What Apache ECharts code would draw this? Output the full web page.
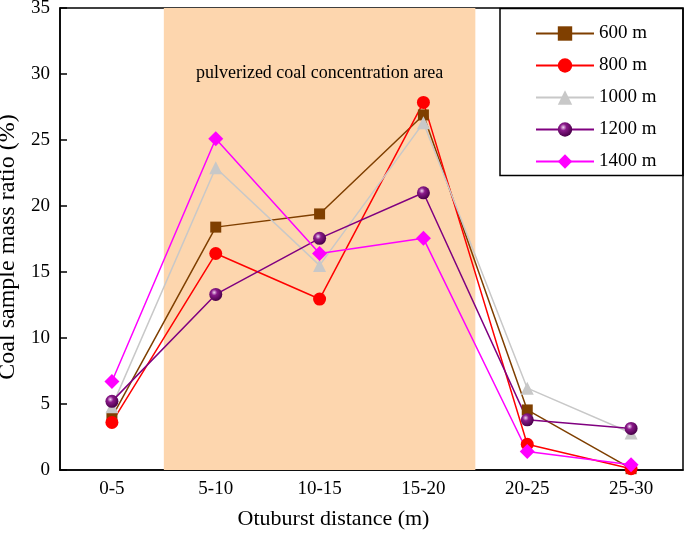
<!DOCTYPE html>
<html>
<head>
<meta charset="utf-8">
<script src="https://cdn.jsdelivr.net/npm/echarts@6/dist/echarts.min.js"></script>
<style>html,body{margin:0;padding:0;background:#fff}#c{width:685px;height:534px}</style>
</head>
<body>
<div id="c"></div>
<script>
const categories = ['0-5', '5-10', '10-15', '15-20', '20-25', '25-30'];
const s600 = [4.0, 18.4, 19.4, 26.9, 4.55, 0.1];
const s800 = [3.6, 16.4, 12.95, 27.85, 1.95, 0.1];
const s1000 = [4.8, 22.9, 15.5, 26.3, 6.2, 2.8];
const s1200 = [5.2, 13.3, 17.55, 21.0, 3.8, 3.15];
const s1400 = [6.7, 25.1, 16.4, 17.55, 1.4, 0.4];
const seriesNames = ['600 m', '800 m', '1000 m', '1200 m', '1400 m'];
const areaRange = [0.5, 3.5];
const areaLabel = 'pulverized coal concentration area';
const yTicks = [0, 5, 10, 15, 20, 25, 30, 35];

const FONT = 'Liberation Serif';
const chart = echarts.init(document.getElementById('c'));

const sphere = {
  type: 'radial', x: 0.38, y: 0.35, r: 0.65,
  colorStops: [
    {offset: 0, color: '#f2d6f2'},
    {offset: 0.35, color: '#8a1a8a'},
    {offset: 1, color: '#4a004a'}
  ]
};

function mk(name, data, color, symbol, size, itemColor) {
  return {
    name: name, type: 'line', data: data,
    symbol: symbol, symbolSize: size,
    lineStyle: {color: color, width: 1.5},
    itemStyle: {color: itemColor || color},
    z: 3
  };
}

chart.setOption({
  animation: false,
  backgroundColor: '#fff',
  grid: {left: 60, right: 2, top: 8, bottom: 64, containLabel: false, outerBoundsMode: 'none',
    show: true, borderColor: '#000', borderWidth: 1.5, backgroundColor: 'transparent'},
  legend: {
    data: seriesNames,
    orient: 'vertical',
    left: 535, top: 24,
    itemWidth: 58, itemHeight: 18, itemGap: 13,
    textStyle: {fontFamily: FONT, fontSize: 19, color: '#000'},
    padding: 0
  },
  xAxis: [{
    type: 'category', data: categories,
    boundaryGap: true,
    axisLine: {onZero: false, lineStyle: {color: '#000', width: 1.5}},
    axisTick: {inside: true, length: 6, lineStyle: {color: '#000', width: 1.5}},
    axisLabel: {fontFamily: FONT, fontSize: 19, color: '#000', margin: 10},
    name: 'Otuburst distance (m)', nameLocation: 'middle', nameGap: 38,
    nameTextStyle: {fontFamily: FONT, fontSize: 22, color: '#000', padding: [0, 76, 0, 0]}
  }, {
    type: 'value', min: -0.5, max: 5.5, show: false
  }],
  yAxis: {
    type: 'value', min: yTicks[0], max: yTicks[yTicks.length - 1], interval: 5,
    splitLine: {show: false},
    axisLine: {show: true, onZero: false, lineStyle: {color: '#000', width: 1.5}},
    axisTick: {show: true, inside: true, length: 7, lineStyle: {color: '#000', width: 1.5}},
    axisLabel: {fontFamily: FONT, fontSize: 19, color: '#000', margin: 10},
    name: 'Coal sample mass ratio (%)', nameLocation: 'middle', nameGap: 31,
    nameTextStyle: {fontFamily: FONT, fontSize: 24, color: '#000', padding: [0, 16, 0, 0]}
  },
  graphic: [{
    type: 'rect', shape: {x: 500, y: 8.5, width: 183, height: 167},
    style: {fill: 'none', stroke: '#000', lineWidth: 1.5}, z: 100
  }],
  series: [
    {
      name: 'area', type: 'line', xAxisIndex: 1, data: [], z: 1,
      markArea: {
        silent: true,
        itemStyle: {color: '#FDD6AE'},
        label: {show: true, position: 'insideTop', distance: 56, formatter: areaLabel,
          fontFamily: FONT, fontSize: 18, color: '#000'},
        data: [[{xAxis: areaRange[0], yAxis: yTicks[0]}, {xAxis: areaRange[1], yAxis: yTicks[yTicks.length - 1]}]]
      }
    },
    mk(seriesNames[0], s600, '#7F3F00', 'rect', 11),
    mk(seriesNames[1], s800, '#FF0000', 'circle', 13),
    mk(seriesNames[2], s1000, '#C8C8C8', 'triangle', 13),
    mk(seriesNames[3], s1200, '#800080', 'circle', 13, sphere),
    mk(seriesNames[4], s1400, '#FF00FF', 'diamond', 15)
  ]
});
</script>
</body>
</html>
